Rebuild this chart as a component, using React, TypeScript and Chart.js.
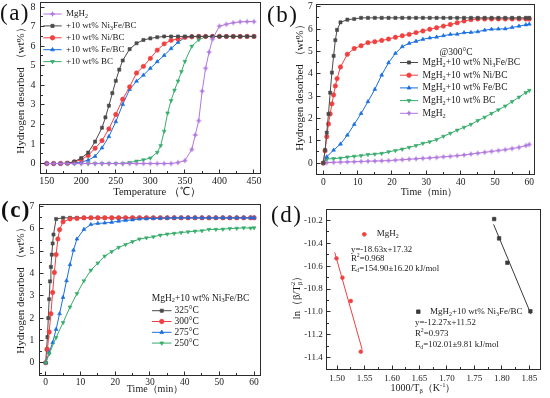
import React, { useEffect, useRef } from 'react';
import { Chart, registerables } from 'chart.js';
Chart.register(...registerables);

const FONT = '"Liberation Serif", "Times New Roman", Times, serif';
const TXT = '#1a1a1a';
const C_BLACK = '#4a4a4a';
const C_RED = '#F14040';
const C_BLUE = '#1A6FDF';
const C_GREEN = '#37AD6B';
const C_PURPLE = '#B177DE';

// ---------------- Panel (a): temperature-programmed desorption ----------------
const aTicksX = [150, 200, 250, 300, 350, 400, 450];
const aTicksY = [0, 1, 2, 3, 4, 5, 6, 7, 8];
const aMgH2T = [150,160,170,180,190,200,210,220,230,240,250,260,270,280,290,300,310,320,330,340,350,360,365,370,375,380,385,390,400,410,420,430,440,450];
const aMgH2V = [0,0,0,0,0,0,0,0,0,0,0,0,0,0,0,0,0,0,0,0.05,0.15,0.72,1.46,2.19,3.7,4.87,5.7,6.36,7.03,7.12,7.2,7.25,7.26,7.26];
const aNi3FeT = [150,160,170,180,190,200,210,220,230,235,240,245,250,255,260,270,280,290,300,310,320,330,340,350,360,370,380,390,400,410,420,430,440,450];
const aNi3FeV = [0,0,0,0.02,0.1,0.28,0.56,1.12,1.83,2.36,2.96,3.6,4.23,4.8,5.27,5.85,6.15,6.32,6.4,6.46,6.5,6.5,6.5,6.5,6.5,6.5,6.5,6.5,6.5,6.5,6.5,6.5,6.5,6.5];
const aTemp10 = [150,160,170,180,190,200,210,220,230,240,250,260,270,280,290,300,310,320,330,340,350,360,370,380,390,400,410,420,430,440,450];
const aNiV = [0,0,0,0.02,0.08,0.2,0.41,0.78,1.17,1.77,2.51,3.29,3.92,4.63,4.97,5.38,5.8,6.12,6.3,6.37,6.45,6.48,6.5,6.5,6.5,6.5,6.5,6.5,6.5,6.5,6.5];
const aFeV = [0,0,0,0,0.02,0.08,0.17,0.37,0.8,1.38,2.14,3.02,3.79,4.21,4.52,4.87,5.21,5.53,5.88,6.2,6.45,6.5,6.5,6.5,6.5,6.5,6.5,6.5,6.5,6.5,6.5];
const aBCT = [150,160,170,180,190,200,210,220,230,240,250,260,270,280,290,300,310,315,320,325,330,335,340,345,350,360,370,380,390,400,410,420,430,440,450];
const aBCV = [0,0,0,0,0,0,0,0,0,0,0,0,0.05,0.12,0.19,0.28,0.57,0.92,1.65,2.58,3.22,3.75,4.22,4.7,5.22,6.0,6.33,6.48,6.5,6.5,6.5,6.5,6.5,6.5,6.5];

// ---------------- Panel (b): isothermal desorption at 300 °C ----------------
const bTicksX = [0, 10, 20, 30, 40, 50, 60];
const bTicksY = [0, 1, 2, 3, 4, 5, 6, 7];
const bFastT = [0,0.5,1,1.5,2,2.5,3,3.5,4,5,7,9,11,13,15,17,19,21,23,25,27,29,31,33,35,37,39,41,43,45,47,49,51,53,55,57,59,60];
const bSlowT = [0,1,3,5,7,9,11,13,15,17,19,21,23,25,27,29,31,33,35,37,39,41,43,45,47,49,51,53,55,57,59,60];
const bNi3FeV = [0,0.58,1.36,2.2,3.15,4.05,4.8,5.5,5.96,6.3,6.42,6.45,6.5,6.5,6.5,6.5,6.5,6.5,6.5,6.5,6.5,6.5,6.5,6.5,6.5,6.5,6.5,6.5,6.5,6.5,6.5,6.5,6.5,6.5,6.5,6.5,6.5,6.5];
const bNiV = [0,0.55,1.18,1.75,2.2,2.65,3.05,3.45,3.78,4.3,4.87,5.13,5.25,5.39,5.43,5.49,5.55,5.63,5.7,5.76,5.84,5.91,5.99,6.06,6.13,6.2,6.28,6.36,6.42,6.45,6.45,6.45,6.45,6.45,6.45,6.45,6.45,6.45];
const bFeV = [0,0.28,0.58,0.85,1.25,1.73,2.22,2.75,3.3,3.94,4.49,4.91,5.21,5.36,5.45,5.54,5.6,5.64,5.7,5.76,5.77,5.84,5.85,5.88,5.95,5.99,6.0,6.01,6.07,6.13,6.19,6.22];
const bBCV = [0,0.18,0.2,0.22,0.27,0.3,0.33,0.38,0.4,0.43,0.5,0.56,0.62,0.7,0.78,0.88,0.95,1.05,1.2,1.33,1.47,1.6,1.73,1.9,2.05,2.22,2.38,2.55,2.75,2.95,3.15,3.25];
const bMgH2V = [0,0.02,0.03,0.04,0.05,0.06,0.07,0.08,0.09,0.1,0.11,0.13,0.15,0.17,0.19,0.21,0.23,0.25,0.28,0.3,0.33,0.36,0.4,0.44,0.48,0.52,0.56,0.6,0.65,0.7,0.78,0.83];

// ---------------- Panel (c): Ni3Fe/BC at different temperatures ----------------
const cTicksX = [0, 10, 20, 30, 40, 50, 60];
const cTicksY = [0, 1, 2, 3, 4, 5, 6, 7];
const c325T = [0,0.25,0.5,0.75,1,1.25,1.5,1.75,2,2.25,3,5,7,9,11,13,15,17,19,21,23,25,27,29,31,33,35,37,39,41,43,45,47,49,51,53,55,57,59,60];
const c325V = [0,0.6,1.15,2.0,2.85,3.65,4.3,4.85,5.35,5.75,6.45,6.5,6.5,6.5,6.5,6.5,6.5,6.5,6.5,6.5,6.5,6.5,6.5,6.5,6.5,6.5,6.5,6.5,6.5,6.5,6.5,6.5,6.5,6.5,6.5,6.5,6.5,6.5,6.5,6.5];
const c300T = [0,0.5,1,1.5,2,2.5,3,3.5,4,5,7,9,11,13,15,17,19,21,23,25,27,29,31,33,35,37,39,41,43,45,47,49,51,53,55,57,59,60];
const c300V = [0,0.6,1.38,2.2,3.15,4.05,4.85,5.55,5.97,6.32,6.45,6.47,6.5,6.5,6.5,6.5,6.5,6.5,6.5,6.5,6.5,6.5,6.5,6.5,6.5,6.5,6.5,6.5,6.5,6.5,6.5,6.5,6.5,6.5,6.5,6.5,6.5,6.5];
const c275T = [0,1,2,3,4,5,6,7,8,9,11,13,15,17,19,21,23,25,27,29,31,33,35,37,39,41,43,45,47,49,51,53,55,57,59,60];
const c275V = [0,0.45,0.9,1.5,2.2,2.93,3.68,4.4,5.05,5.55,5.98,6.2,6.25,6.27,6.3,6.35,6.38,6.41,6.45,6.46,6.47,6.48,6.49,6.5,6.5,6.5,6.5,6.5,6.5,6.5,6.5,6.5,6.5,6.5,6.5,6.5];
const c250T = [0,1,3,5,7,9,11,13,15,17,19,21,23,25,27,29,31,33,35,37,39,41,43,45,47,49,51,53,55,57,59,60];
const c250V = [0,0.4,1.13,1.8,2.5,3.1,3.67,4.15,4.47,4.78,4.98,5.17,5.3,5.43,5.55,5.6,5.65,5.72,5.77,5.8,5.84,5.87,5.9,5.92,5.98,5.98,5.99,6.02,6.03,6.05,6.04,6.05];

// ---------------- Panel (d): Kissinger plot ----------------
const dTicksX = [1.5, 1.55, 1.6, 1.65, 1.7, 1.75, 1.8, 1.85];
const dTicksY = [-10.2, -10.4, -10.6, -10.8, -11.0, -11.2, -11.4];
const dMgH2X = [1.4988, 1.5097, 1.5249, 1.5431];
const dMgH2Y = [-10.532, -10.701, -10.905, -11.348];
const dNi3FeX = [1.786, 1.795, 1.81, 1.852];
const dNi3FeY = [-10.188, -10.357, -10.57, -10.995];
const dMgH2FitX = [1.4957, 1.5456];
const dMgH2FitY = [-10.48, -11.33];
const dNi3FeFitX = [1.785, 1.853];
const dNi3FeFitY = [-10.235, -11.02];

// ---------------- helpers ----------------
type Seg = { t: string; k: 'n' | 'sub' | 'sup' };
function parseRich(s: string): Seg[] {
  const segs: Seg[] = [];
  let buf = '';
  let i = 0;
  while (i < s.length) {
    const c = s[i];
    if ((c === '_' || c === '^') && s[i + 1] === '{') {
      if (buf) { segs.push({ t: buf, k: 'n' }); buf = ''; }
      const end = s.indexOf('}', i + 2);
      segs.push({ t: s.slice(i + 2, end), k: c === '_' ? 'sub' : 'sup' });
      i = end + 1;
    } else { buf += c; i++; }
  }
  if (buf) segs.push({ t: buf, k: 'n' });
  return segs;
}
function setFont(ctx: CanvasRenderingContext2D, size: number, weight = 'normal') {
  ctx.font = `${weight} ${size}px ${FONT}`;
}
function drawRich(ctx: CanvasRenderingContext2D, text: string, x: number, y: number, size: number,
  align: 'left' | 'center' | 'right' = 'left', color = TXT, weight = 'normal') {
  const segs = parseRich(text);
  const placed: { s: Seg; x: number; sz: number }[] = [];
  let cx = 0, subStart = -1, subW = 0;
  for (const s of segs) {
    const sz = s.k === 'n' ? size : size * 0.66;
    setFont(ctx, sz, weight);
    const w = ctx.measureText(s.t).width;
    if (s.k === 'sup' && subStart >= 0) {
      placed.push({ s, x: subStart, sz });
      cx = subStart + Math.max(subW, w);
      subStart = -1;
    } else {
      placed.push({ s, x: cx, sz });
      if (s.k === 'sub') { subStart = cx; subW = w; } else subStart = -1;
      cx += w;
    }
  }
  const x0 = align === 'left' ? x : align === 'center' ? x - cx / 2 : x - cx;
  ctx.save();
  ctx.fillStyle = color;
  ctx.textBaseline = 'middle';
  ctx.textAlign = 'left';
  for (const p of placed) {
    setFont(ctx, p.sz, weight);
    const dy = p.s.k === 'sub' ? size * 0.3 : p.s.k === 'sup' ? -size * 0.33 : 0;
    ctx.fillText(p.s.t, x0 + p.x, y + dy);
  }
  ctx.restore();
}
function markerPath(ctx: CanvasRenderingContext2D, style: string, x: number, y: number, r: number, rot = 0) {
  ctx.beginPath();
  if (style === 'rect') {
    const s = r * Math.SQRT1_2;
    ctx.rect(x - s, y - s, 2 * s, 2 * s);
  } else if (style === 'circle') {
    ctx.arc(x, y, r, 0, Math.PI * 2);
  } else if (style === 'triangle') {
    let a = (rot * Math.PI) / 180;
    for (let k = 0; k < 3; k++) {
      const px = x + Math.sin(a) * r, py = y - Math.cos(a) * r;
      if (k === 0) ctx.moveTo(px, py); else ctx.lineTo(px, py);
      a += (2 * Math.PI) / 3;
    }
  } else if (style === 'star') {
    for (let k = 0; k < 8; k++) {
      const a = -Math.PI / 2 + (k * Math.PI) / 4;
      const rr = k % 2 === 0 ? r : r * 0.45;
      const px = x + Math.cos(a) * rr, py = y + Math.sin(a) * rr;
      if (k === 0) ctx.moveTo(px, py); else ctx.lineTo(px, py);
    }
  }
  ctx.closePath();
}
function drawMarker(ctx: CanvasRenderingContext2D, style: string, x: number, y: number, r: number, color: string, rot = 0) {
  ctx.save();
  ctx.fillStyle = color;
  ctx.strokeStyle = color;
  ctx.lineWidth = 0.8;
  markerPath(ctx, style, x, y, r, rot);
  ctx.fill();
  ctx.stroke();
  ctx.restore();
}
const starCache: Record<string, HTMLCanvasElement> = {};
function starImage(color: string, r: number) {
  const key = color + r;
  if (starCache[key]) return starCache[key];
  const c = document.createElement('canvas');
  const s = Math.ceil(2 * r + 2);
  c.width = s; c.height = s;
  const g = c.getContext('2d')!;
  markerPath(g, 'star', s / 2, s / 2, r);
  g.fillStyle = color;
  g.fill();
  starCache[key] = c;
  return c;
}

type Series = { x: number[]; y: number[]; color: string; style: string; rot?: number; r?: number; line?: boolean; points?: boolean; order?: number };
type LegendItem = { label: string; color: string; style: string; rot?: number };
type TextItem = { text: string; x: number; y: number; size: number; align?: 'left' | 'center' | 'right' };
type MarkItem = { style: string; color: string; x: number; y: number; r: number };
type Panel = {
  id: string;
  left: number; top: number; width: number; height: number;
  L: number; T: number; R: number; B: number;
  xMin: number; xMax: number; yMin: number; yMax: number;
  xTicks: number[]; yTicks: number[]; xDec: number; yDec: number;
  tickSize: number; xPad: number; yPad: number;
  xTitle: TextItem; yTitle: TextItem;
  series: Series[];
  legend?: { x1: number; x2: number; tx: number; y0: number; dy: number; size: number; title?: TextItem; items: LegendItem[] };
  texts?: TextItem[];
  marks?: MarkItem[];
};

const MR = 2.2; // marker radius
const SR = 3.0; // star radius

const panels: Panel[] = [
  {
    id: 'a', left: 0, top: 0, width: 275, height: 198,
    L: 40.5, T: 2.5, R: 260.2, B: 173.3,
    xMin: 141, xMax: 459, yMin: -0.5, yMax: 8.22,
    xTicks: aTicksX, yTicks: aTicksY, xDec: 0, yDec: 0,
    tickSize: 10, xPad: 2, yPad: 5,
    xTitle: { text: 'Temperature （℃）', x: 157, y: 192.5, size: 10.5, align: 'center' },
    yTitle: { text: 'Hydrogen desorbed （wt%）', x: 21, y: 88, size: 11, align: 'center' },
    series: [
      { x: aMgH2T, y: aMgH2V, color: C_PURPLE, style: 'star' },
      { x: aNi3FeT, y: aNi3FeV, color: C_BLACK, style: 'rect' },
      { x: aTemp10, y: aNiV, color: C_RED, style: 'circle' },
      { x: aTemp10, y: aFeV, color: C_BLUE, style: 'triangle' },
      { x: aBCT, y: aBCV, color: C_GREEN, style: 'triangle', rot: 180 },
    ],
    legend: {
      x1: 43.3, x2: 61.7, tx: 66, y0: 14, dy: 11.9, size: 9,
      items: [
        { label: 'MgH_{2}', color: C_PURPLE, style: 'star' },
        { label: '+10 wt% Ni_{3}Fe/BC', color: C_BLACK, style: 'rect' },
        { label: '+10 wt% Ni/BC', color: C_RED, style: 'circle' },
        { label: '+10 wt% Fe/BC', color: C_BLUE, style: 'triangle' },
        { label: '+10 wt% BC', color: C_GREEN, style: 'triangle', rot: 180 },
      ],
    },
  },
  {
    id: 'b', left: 275, top: 0, width: 275, height: 198,
    L: 316.8, T: 4.9, R: 534.3, B: 174.2,
    xMin: -1.9, xMax: 61.46, yMin: -0.5, yMax: 7.08,
    xTicks: bTicksX, yTicks: bTicksY, xDec: 0, yDec: 0,
    tickSize: 9.5, xPad: 3, yPad: 4,
    xTitle: { text: 'Time（min）', x: 429, y: 192.3, size: 10, align: 'center' },
    yTitle: { text: 'Hydrogen desorbed （wt%）', x: 300, y: 85, size: 11, align: 'center' },
    series: [
      { x: bFastT, y: bNi3FeV, color: C_BLACK, style: 'rect' },
      { x: bFastT, y: bNiV, color: C_RED, style: 'circle' },
      { x: bSlowT, y: bFeV, color: C_BLUE, style: 'triangle' },
      { x: bSlowT, y: bBCV, color: C_GREEN, style: 'triangle', rot: 180 },
      { x: bSlowT, y: bMgH2V, color: C_PURPLE, style: 'star' },
    ],
    legend: {
      x1: 400, x2: 418, tx: 422.5, y0: 62.5, dy: 12.7, size: 9.5,
      title: { text: '@300°C', x: 456, y: 52.7, size: 9.5, align: 'center' },
      items: [
        { label: 'MgH_{2}+10 wt% Ni_{3}Fe/BC', color: C_BLACK, style: 'rect' },
        { label: 'MgH_{2}+10 wt% Ni/BC', color: C_RED, style: 'circle' },
        { label: 'MgH_{2}+10 wt% Fe/BC', color: C_BLUE, style: 'triangle' },
        { label: 'MgH_{2}+10 wt% BC', color: C_GREEN, style: 'triangle', rot: 180 },
        { label: 'MgH_{2}', color: C_PURPLE, style: 'star' },
      ],
    },
  },
  {
    id: 'c', left: 0, top: 198, width: 275, height: 200,
    L: 39.3, T: 204, R: 260, B: 375,
    xMin: -1.84, xMax: 61.7, yMin: -0.55, yMax: 7.12,
    xTicks: cTicksX, yTicks: cTicksY, xDec: 0, yDec: 0,
    tickSize: 9.5, xPad: 2, yPad: 5,
    xTitle: { text: 'Time（min）', x: 155, y: 389.5, size: 10, align: 'center' },
    yTitle: { text: 'Hydrogen desorbed （wt%）', x: 21, y: 288, size: 11, align: 'center' },
    series: [
      { x: c325T, y: c325V, color: C_BLACK, style: 'rect', order: 4 },
      { x: c300T, y: c300V, color: C_RED, style: 'circle', order: 3 },
      { x: c275T, y: c275V, color: C_BLUE, style: 'triangle', order: 2 },
      { x: c250T, y: c250V, color: C_GREEN, style: 'triangle', rot: 180, order: 1 },
    ],
    legend: {
      x1: 152, x2: 171.5, tx: 174.5, y0: 310.7, dy: 10.8, size: 9.5,
      title: { text: 'MgH_{2}+10 wt% Ni_{3}Fe/BC', x: 151.7, y: 298, size: 9.5, align: 'left' },
      items: [
        { label: '325°C', color: C_BLACK, style: 'rect' },
        { label: '300°C', color: C_RED, style: 'circle' },
        { label: '275°C', color: C_BLUE, style: 'triangle' },
        { label: '250°C', color: C_GREEN, style: 'triangle', rot: 180 },
      ],
    },
  },
  {
    id: 'd', left: 275, top: 198, width: 275, height: 200,
    L: 326.7, T: 209, R: 540, B: 369,
    xMin: 1.481, xMax: 1.8695, yMin: -11.5, yMax: -10.1,
    xTicks: dTicksX, yTicks: dTicksY, xDec: 2, yDec: 1,
    tickSize: 9, xPad: 4, yPad: 4,
    xTitle: { text: '1000/T_{β}（K^{-1}）', x: 423, y: 388.5, size: 10, align: 'center' },
    yTitle: { text: 'ln（β/T_{β}^{2}）', x: 297, y: 295, size: 10.5, align: 'center' },
    series: [
      { x: dMgH2X, y: dMgH2Y, color: C_RED, style: 'circle', r: 1.9, line: false },
      { x: dNi3FeX, y: dNi3FeY, color: '#3a3a3a', style: 'rect', r: 2.5, line: false },
      { x: dMgH2FitX, y: dMgH2FitY, color: C_RED, style: 'circle', points: false },
      { x: dNi3FeFitX, y: dNi3FeFitY, color: '#3a3a3a', style: 'rect', points: false },
    ],
    marks: [
      { style: 'circle', color: C_RED, x: 364.3, y: 234.3, r: 1.9 },
      { style: 'rect', color: '#3a3a3a', x: 418.3, y: 311.7, r: 2.5 },
    ],
    texts: [
      { text: 'MgH_{2}', x: 376.7, y: 234, size: 9 },
      { text: 'y=-18.63x+17.32', x: 351, y: 249.3, size: 8.8 },
      { text: 'R^{2}=0.968', x: 351, y: 258.6, size: 8.8 },
      { text: 'E_{d}=154.90±16.20 kJ/mol', x: 351, y: 268.3, size: 8.8 },
      { text: 'MgH_{2}+10 wt% Ni_{3}Fe/BC', x: 430, y: 311.7, size: 9 },
      { text: 'y=-12.27x+11.52', x: 415, y: 322.7, size: 8.8 },
      { text: 'R^{2}=0.973', x: 415, y: 333.5, size: 8.8 },
      { text: 'E_{d}=102.01±9.81 kJ/mol', x: 415, y: 345, size: 8.8 },
    ],
  },
];

function makeDecor(p: Panel) {
  return {
    id: 'decor' + p.id,
    afterDraw(chart: any) {
      const ctx: CanvasRenderingContext2D = chart.ctx;
      const a = chart.chartArea;
      const xs = chart.scales.x;
      const ys = chart.scales.y;
      const ox = p.left, oy = p.top;
      const snap = (v: number) => Math.round(v - 0.5) + 0.5;
      ctx.save();
      ctx.strokeStyle = '#2b2b2b';
      ctx.lineWidth = 1;
      const L = snap(a.left), R = snap(a.right), T = snap(a.top), B = snap(a.bottom);
      ctx.strokeRect(L, T, R - L, B - T);
      ctx.beginPath();
      const xt = p.xTicks, yt = p.yTicks;
      const xMinor: number[] = [];
      const yMinor: number[] = [];
      for (let i = 0; i < xt.length - 1; i++) xMinor.push((xt[i] + xt[i + 1]) / 2);
      for (let i = 0; i < yt.length - 1; i++) yMinor.push((yt[i] + yt[i + 1]) / 2);
      const xs0 = xt[1] - xt[0];
      xMinor.push(xt[0] - xs0 / 2, xt[xt.length - 1] + xs0 / 2);
      const ys0 = yt[1] - yt[0];
      yMinor.push(yt[0] - ys0 / 2, yt[yt.length - 1] + ys0 / 2);
      const inX = (v: number) => v > Math.min(p.xMin, p.xMax) && v < Math.max(p.xMin, p.xMax);
      const inY = (v: number) => v > Math.min(p.yMin, p.yMax) && v < Math.max(p.yMin, p.yMax);
      for (const v of xt) { const px = snap(xs.getPixelForValue(v)); ctx.moveTo(px, B); ctx.lineTo(px, B - 4); }
      for (const v of xMinor) { if (!inX(v)) continue; const px = snap(xs.getPixelForValue(v)); ctx.moveTo(px, B); ctx.lineTo(px, B - 2.5); }
      for (const v of yt) { const py = snap(ys.getPixelForValue(v)); ctx.moveTo(L, py); ctx.lineTo(L + 4, py); }
      for (const v of yMinor) { if (!inY(v)) continue; const py = snap(ys.getPixelForValue(v)); ctx.moveTo(L, py); ctx.lineTo(L + 2.5, py); }
      ctx.stroke();
      ctx.restore();

      drawRich(ctx, p.xTitle.text, p.xTitle.x - ox, p.xTitle.y - oy, p.xTitle.size, 'center');
      ctx.save();
      ctx.translate(p.yTitle.x - ox, p.yTitle.y - oy);
      ctx.rotate(-Math.PI / 2);
      drawRich(ctx, p.yTitle.text, 0, 0, p.yTitle.size, 'center');
      ctx.restore();

      if (p.legend) {
        const lg = p.legend;
        if (lg.title) drawRich(ctx, lg.title.text, lg.title.x - ox, lg.title.y - oy, lg.title.size, lg.title.align || 'left');
        lg.items.forEach((it, i) => {
          const y = lg.y0 + i * lg.dy - oy;
          ctx.save();
          ctx.strokeStyle = it.color;
          ctx.lineWidth = 1;
          ctx.beginPath();
          ctx.moveTo(lg.x1 - ox, y);
          ctx.lineTo(lg.x2 - ox, y);
          ctx.stroke();
          ctx.restore();
          const mx = (lg.x1 + lg.x2) / 2 - ox;
          if (it.style === 'star') {
            ctx.save(); ctx.fillStyle = it.color; markerPath(ctx, 'star', mx, y, SR); ctx.fill(); ctx.restore();
          } else drawMarker(ctx, it.style, mx, y, MR, it.color, it.rot || 0);
          drawRich(ctx, it.label, lg.tx - ox, y, lg.size, 'left');
        });
      }
      if (p.marks) for (const m of p.marks) drawMarker(ctx, m.style, m.x - ox, m.y - oy, m.r, m.color);
      if (p.texts) for (const t of p.texts) drawRich(ctx, t.text, t.x - ox, t.y - oy, t.size, t.align || 'left');
    },
  };
}

function buildConfig(p: Panel): any {
  const yW = p.L - p.left;
  const xH = p.top + p.height - p.B;
  const tickFont = { family: FONT, size: p.tickSize };
  return {
    type: 'line',
    data: {
      datasets: p.series.map((s) => ({
        data: s.x.map((x, i) => ({ x, y: s.y[i] })),
        borderColor: s.color,
        backgroundColor: s.color,
        borderWidth: 1,
        showLine: s.line !== false,
        pointRadius: s.points === false ? 0 : (s.r ?? MR),
        pointHoverRadius: 0,
        pointStyle: s.style === 'star' ? starImage(s.color, SR) : s.style,
        pointRotation: s.rot || 0,
        pointBorderWidth: 0.6,
        pointBorderColor: s.color,
        pointBackgroundColor: s.color,
        tension: 0,
        order: s.order ?? 0,
        clip: 4,
      })),
    },
    options: {
      responsive: false,
      maintainAspectRatio: false,
      animation: false,
      events: [],
      layout: { padding: { top: p.T - p.top, right: p.left + p.width - p.R, left: 0, bottom: 0 } },
      plugins: { legend: { display: false }, tooltip: { enabled: false }, title: { display: false } },
      scales: {
        x: {
          type: 'linear', min: p.xMin, max: p.xMax,
          grid: { display: false, drawTicks: false },
          border: { display: false },
          ticks: {
            font: tickFont, color: TXT, padding: p.xPad, maxRotation: 0, autoSkip: false, includeBounds: false,
            callback: (v: any) => Number(v).toFixed(p.xDec),
          },
          afterBuildTicks: (s: any) => { s.ticks = p.xTicks.map((v) => ({ value: v })); },
          afterFit: (s: any) => { s.height = xH; s.paddingLeft = 0; s.paddingRight = 0; s.paddingTop = 0; s.paddingBottom = 0; },
        },
        y: {
          type: 'linear', min: p.yMin, max: p.yMax,
          grid: { display: false, drawTicks: false },
          border: { display: false },
          ticks: {
            font: tickFont, color: TXT, padding: p.yPad, autoSkip: false, includeBounds: false,
            callback: (v: any) => Number(v).toFixed(p.yDec),
          },
          afterBuildTicks: (s: any) => { s.ticks = p.yTicks.map((v) => ({ value: v })); },
          afterFit: (s: any) => { s.width = yW; s.paddingLeft = 0; s.paddingRight = 0; s.paddingTop = 0; s.paddingBottom = 0; },
        },
      },
    },
    plugins: [makeDecor(p)],
  };
}

function PanelChart({ p }: { p: Panel }) {
  const ref = useRef<HTMLCanvasElement>(null);
  useEffect(() => {
    const chart = new Chart(ref.current as HTMLCanvasElement, buildConfig(p));
    return () => chart.destroy();
  }, [p]);
  return (
    <canvas
      ref={ref}
      width={p.width}
      height={p.height}
      style={{ position: 'absolute', left: p.left, top: p.top, width: p.width, height: p.height }}
    />
  );
}

const panelLabels = [
  { text: '(a)', x: 0, y: 13, bold: false },
  { text: '(b)', x: 267, y: 15, bold: false },
  { text: '(c)', x: 1, y: 210, bold: true },
  { text: '(d)', x: 271, y: 215, bold: false },
];

export default function App() {
  return (
    <div style={{ position: 'fixed', left: 0, top: 0, width: 550, height: 398, background: '#fff', overflow: 'hidden' }}>
      {panels.map((p) => <PanelChart key={p.id} p={p} />)}
      {panelLabels.map((l) => (
        <div
          key={l.text}
          style={{
            position: 'absolute', left: l.x, top: l.y - 12, height: 24, lineHeight: '24px',
            fontFamily: FONT, fontSize: 23, fontWeight: l.bold ? 700 : 400, color: '#111',
            letterSpacing: 1.5, whiteSpace: 'nowrap', pointerEvents: 'none',
          }}
        >
          {l.text}
        </div>
      ))}
    </div>
  );
}
